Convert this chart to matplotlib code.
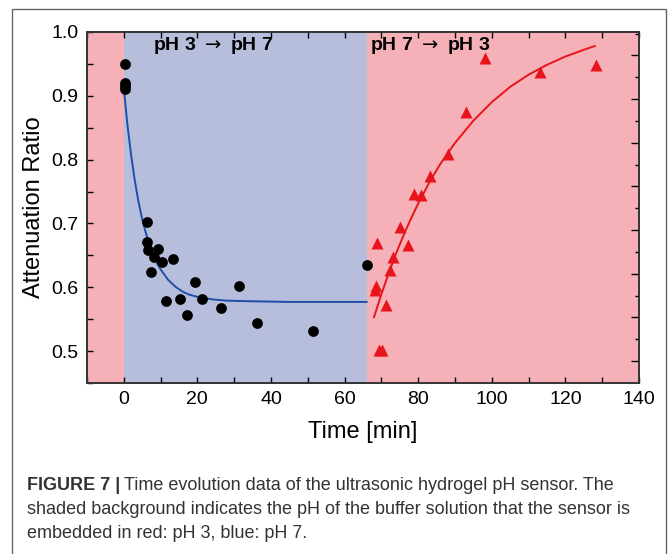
import numpy as np
import matplotlib
matplotlib.use("Agg")
import matplotlib.pyplot as plt
from matplotlib.patches import Rectangle
from matplotlib.ticker import MultipleLocator

plt.rcParams['font.family'] = ['Liberation Sans', 'DejaVu Sans']

# measured points, pH 3 -> pH 7 (black dots)
t_down = [0.3, 0.3, 0.3, 0.3, 6.4, 6.4, 6.7, 9.3, 8.2, 10.3, 13.3, 7.3, 19.3,
          11.4, 15.3, 21.3, 17.3, 26.4, 31.3, 36.3, 51.3, 66.2]
r_down = [0.950, 0.920, 0.915, 0.910, 0.703, 0.671, 0.659, 0.660, 0.648, 0.640,
          0.645, 0.624, 0.608, 0.578, 0.582, 0.581, 0.557, 0.568, 0.602, 0.544,
          0.531, 0.635]

# measured points, pH 7 -> pH 3 (red triangles)
t_up = [68.8, 68.5, 68.2, 71.2, 69.4, 70.3, 72.3, 73.2, 75.1, 77.3, 78.9, 80.9,
        83.2, 88.0, 93.0, 98.1, 113.1, 128.2]
r_up = [0.670, 0.602, 0.596, 0.572, 0.502, 0.502, 0.627, 0.648, 0.695, 0.666,
        0.746, 0.744, 0.775, 0.809, 0.875, 0.959, 0.938, 0.949]

# fitted curves
fit_down_t = [0, 1, 2, 3, 4, 5, 6, 7, 8, 9, 10, 12, 14, 16, 18, 20, 24, 28, 35, 45, 66]
fit_down_r = [0.912, 0.854, 0.807, 0.767, 0.734, 0.707, 0.685, 0.666, 0.651, 0.638,
              0.628, 0.612, 0.601, 0.593, 0.588, 0.585, 0.581, 0.579, 0.578, 0.577, 0.577]
fit_up_t = [68, 70, 72, 74, 76, 78, 80, 83, 86, 90, 95, 100, 105, 110, 115, 120, 125, 128]
fit_up_r = [0.553, 0.589, 0.622, 0.653, 0.681, 0.707, 0.731, 0.764, 0.793, 0.826,
            0.861, 0.890, 0.914, 0.933, 0.9485, 0.9615, 0.972, 0.978]

# buffer phases: (start, end, colour)
phases = [(-10, 0, '#f5b1b7'), (0, 66, '#b6bedb'), (66, 140, '#f5b1b7')]
phase_labels = [r'pH 3 $\rightarrow$ pH 7', r'pH 7 $\rightarrow$ pH 3']
phase_label_x = [8.0, 67.0]

caption_bold = 'FIGURE 7 |'
caption_lines = ['Time evolution data of the ultrasonic hydrogel pH sensor. The',
                 'shaded background indicates the pH of the buffer solution that the sensor is',
                 'embedded in red: pH 3, blue: pH 7.']

fig = plt.figure(figsize=(6.68, 5.54), dpi=100)
ax = fig.add_axes([0.1302, 0.3087, 0.8263, 0.6336])

for a, b, c in phases:
    ax.axvspan(a, b, color=c, lw=0, zorder=0)

ax.plot(fit_down_t, fit_down_r, color='#1f4fa8', lw=1.4, zorder=2)
ax.plot(fit_up_t, fit_up_r, color='#e8141c', lw=1.4, zorder=2)
ax.scatter(t_down, r_down, s=60, color='black', zorder=3, lw=0)
ax.scatter(t_up, r_up, s=75, marker='^', color='#e8141c', zorder=3, lw=0)

for lab, x in zip(phase_labels, phase_label_x):
    ax.text(x, 0.979, lab, fontsize=14, fontweight='bold', va='center', ha='left', zorder=4)

ax.set_xlim(-10, 140)
ax.set_ylim(0.45, 1.0)
ax.xaxis.set_major_locator(MultipleLocator(20))
ax.xaxis.set_minor_locator(MultipleLocator(10))
ax.yaxis.set_major_locator(MultipleLocator(0.1))
ax.yaxis.set_minor_locator(MultipleLocator(0.05))
ax.yaxis.set_major_formatter(matplotlib.ticker.FormatStrFormatter('%.1f'))
ax.tick_params(which='both', direction='in', top=True, right=False, labelsize=14,
               length=4, width=1, pad=6)

# right axis has its own tick spacing
ax2 = ax.twinx()
ax2.set_ylim(0.45, 1.0)
right_major = np.arange(0.4844, 1.0, 0.0684)
right_minor = np.arange(0.4844 + 0.0342, 1.0, 0.0684)
ax2.set_yticks(right_major)
ax2.set_yticks(right_minor, minor=True)
ax2.tick_params(which='major', direction='in', length=6, width=1, labelright=False)
ax2.tick_params(which='minor', direction='in', length=3, width=1, labelright=False)

for sp in list(ax.spines.values()) + list(ax2.spines.values()):
    sp.set_linewidth(1.2)
    sp.set_color('#333333')

ax.set_xlabel('Time [min]', fontsize=17, labelpad=9)
ax.set_ylabel('Attenuation Ratio', fontsize=17, labelpad=5)

# frame around figure and caption
fig.add_artist(Rectangle((12 / 668, -0.01), 654 / 668, 1 - 9 / 554 + 0.01,
                         transform=fig.transFigure, fill=False, ec='#666666', lw=1))

cap_x = 27 / 668
cap_y = [1 - 486 / 554, 1 - 510 / 554, 1 - 534 / 554]
bold = fig.text(cap_x, cap_y[0], caption_bold, fontsize=13, fontweight='bold',
                color='#333333', va='center')
renderer = fig.canvas.get_renderer()
bb = bold.get_window_extent(renderer)
fig.text((bb.x1 + 4) / fig.bbox.width, cap_y[0], caption_lines[0],
         fontsize=13, color='#333333', va='center')
for line, y in zip(caption_lines[1:], cap_y[1:]):
    fig.text(cap_x, y, line, fontsize=13, color='#333333', va='center')

fig.savefig('out.png', dpi=100)
